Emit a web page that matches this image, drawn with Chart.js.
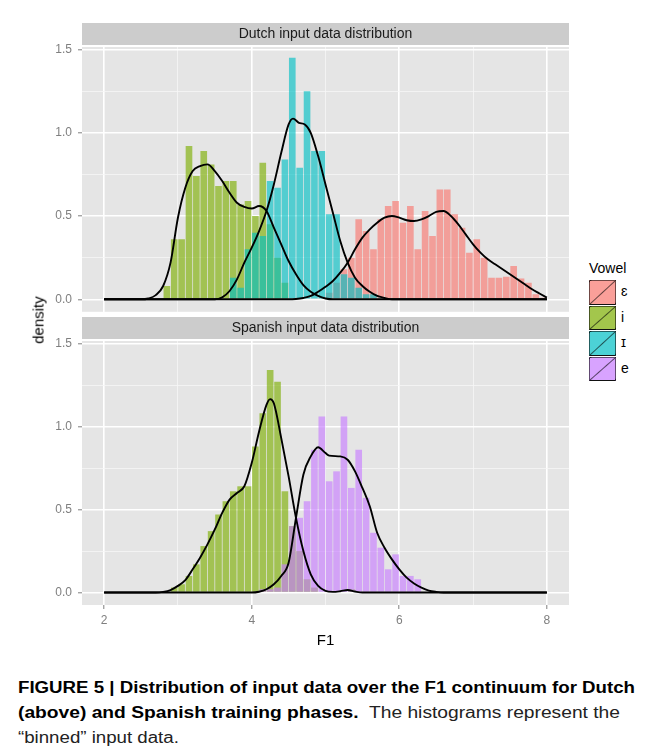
<!DOCTYPE html>
<html>
<head>
<meta charset="utf-8">
<script src="https://cdn.jsdelivr.net/npm/chart.js@4.4.1/dist/chart.umd.min.js"></script>
<style>
  body { margin: 0; background: #fff; width: 652px; height: 752px; position: relative; overflow: hidden;
         font-family: "Liberation Sans", Arial, sans-serif; }
  canvas { position: absolute; left: 0; }
  #dutchChart { top: 0; }
  #spanishChart { top: 312px; }
  #ylab { position: absolute; left: 38px; top: 320px; transform: translate(-50%, -50%) rotate(-90deg);
          font-size: 15px; color: #000; white-space: nowrap; }
  #legend { position: absolute; left: 589px; top: 260px; }
  #legend .title { font-size: 14px; color: #000; height: 20px; }
  #legend .row { position: relative; height: 25.5px; }
  #legend .key { position: absolute; left: 0; top: 0; width: 27px; height: 24.5px; box-sizing: border-box;
                 border: 1px solid rgba(0,0,0,0.55); border-bottom: 1.5px solid #111; }
  #legend .lbl { position: absolute; left: 32px; top: 3px; font-size: 14px; color: #000; }
  .cap { position: absolute; left: 18px; font-size: 16px; line-height: 20px; white-space: nowrap;
         transform-origin: 0 0; color: #000; }
  .cap b { font-weight: bold; }
  .cap span.n { color: #222; }
</style>
</head>
<body>
<canvas id="dutchChart" width="580" height="325"></canvas>
<canvas id="spanishChart" width="580" height="340"></canvas>
<div id="ylab">density</div>
<div id="legend"></div>
<div class="cap" id="cap1" style="top:678px"><b>FIGURE 5 | Distribution of input data over the F1 continuum for Dutch</b></div>
<div class="cap" id="cap2" style="top:703px"><b>(above) and Spanish training phases.</b><span class="n">&nbsp; The histograms represent the</span></div>
<div class="cap" id="cap3" style="top:728px"><span class="n">“binned” input data.</span></div>

<script>
// axis ticks
const xTickValues = [2, 3, 4, 5, 6, 7, 8];
const xTickLabels = ['2', '', '4', '', '6', '', '8'];
const yTickValues = [0, 0.25, 0.5, 0.75, 1, 1.25, 1.5];
const yTickLabels = ['0.0', '', '0.5', '', '1.0', '', '1.5'];
const binWidth = 0.1;

// legend
const vowels = ['ɛ', 'i', 'ɪ', 'e'];
const vowelColors = ['248,118,109', '124,174,0', '0,191,196', '199,124,255'];

// Dutch panel histograms (lower bin edges, density)
const nlEpsBins = [5.0, 5.1, 5.2, 5.3, 5.4, 5.5, 5.6, 5.7, 5.8, 5.9, 6.0, 6.1, 6.2, 6.3, 6.4,
                   6.5, 6.6, 6.7, 6.8, 6.9, 7.0, 7.1, 7.2, 7.3, 7.4, 7.5, 7.6, 7.7, 7.8, 7.9];
const nlEpsHist = [0.04, 0.10, 0.18, 0.25, 0.48, 0.41, 0.30, 0.48, 0.56, 0.59, 0.46, 0.56, 0.30, 0.53, 0.38,
                   0.66, 0.66, 0.51, 0.43, 0.28, 0.36, 0.25, 0.13, 0.13, 0.135, 0.20, 0.125, 0.10, 0.03, 0.01];
const nlIBins = [2.8, 2.9, 3.0, 3.1, 3.2, 3.3, 3.4, 3.5, 3.6, 3.7, 3.8, 3.9, 4.0, 4.1, 4.2, 4.3, 4.4];
const nlIHist = [0.08, 0.36, 0.36, 0.92, 0.74, 0.89, 0.81, 0.68, 0.71, 0.71, 0.57, 0.59, 0.50, 0.82, 0.45, 0.25, 0.10];
const nlLaxIBins = [3.7, 3.8, 3.9, 4.0, 4.1, 4.2, 4.3, 4.4, 4.5, 4.6, 4.7, 4.8, 4.9, 5.0, 5.1,
                    5.2, 5.3, 5.4, 5.5, 5.6, 5.7];
const nlLaxIHist = [0.13, 0.07, 0.30, 0.40, 0.38, 0.71, 0.67, 0.84, 1.45, 0.79, 1.25, 0.89, 0.89, 0.51, 0.51,
                    0.15, 0.13, 0.07, 0.03, 0.03, 0.01];

// Dutch panel density curves
const nlEpsDensX = [2, 4.5, 4.6, 4.7, 4.8, 4.9, 5.0, 5.1, 5.2, 5.3, 5.4, 5.5, 5.6, 5.7, 5.8, 5.9, 6.0, 6.1, 6.2,
                    6.3, 6.4, 6.5, 6.6, 6.7, 6.8, 6.9, 7.0, 7.1, 7.2, 7.3, 7.4, 7.5, 7.6, 7.7, 7.8, 7.9, 8.0];
const nlEpsDensY = [0, 0, 0.002, 0.008, 0.02, 0.045, 0.075, 0.11, 0.16, 0.22, 0.30, 0.37, 0.42, 0.46, 0.49, 0.50, 0.49, 0.475, 0.47,
                    0.48, 0.50, 0.525, 0.53, 0.50, 0.45, 0.39, 0.33, 0.28, 0.24, 0.21, 0.18, 0.15, 0.12, 0.09, 0.06, 0.035, 0.01];
const nlIDensX = [2, 2.5, 2.6, 2.7, 2.8, 2.9, 3.0, 3.1, 3.2, 3.3, 3.4, 3.5, 3.6, 3.7, 3.8, 3.9, 4.0, 4.1, 4.2,
                  4.3, 4.4, 4.5, 4.6, 4.7, 4.8, 4.9, 5.0, 5.1, 8];
const nlIDensY = [0, 0, 0.005, 0.025, 0.08, 0.22, 0.49, 0.67, 0.77, 0.80, 0.81, 0.77, 0.71, 0.64, 0.58, 0.555, 0.545, 0.56, 0.53,
                  0.43, 0.33, 0.23, 0.15, 0.085, 0.045, 0.02, 0.005, 0, 0];
const nlLaxIDensX = [2, 3.5, 3.6, 3.7, 3.8, 3.9, 4.0, 4.1, 4.2, 4.3, 4.4, 4.5, 4.56, 4.64, 4.72, 4.8, 4.9, 5.0,
                     5.1, 5.2, 5.3, 5.4, 5.5, 5.6, 5.7, 5.8, 5.9, 8];
const nlLaxIDensY = [0, 0, 0.012, 0.05, 0.12, 0.22, 0.31, 0.41, 0.53, 0.69, 0.88, 1.05, 1.085, 1.06, 1.05, 1.0, 0.86, 0.69,
                     0.52, 0.35, 0.22, 0.13, 0.08, 0.045, 0.02, 0.008, 0, 0];

// Spanish panel histograms
const esIBins = [2.9, 3.0, 3.1, 3.2, 3.3, 3.4, 3.5, 3.6, 3.7, 3.8, 3.9, 4.0, 4.1, 4.2, 4.3, 4.4, 4.5, 4.6, 4.7, 4.8, 5.3];
const esIHist = [0.03, 0.05, 0.10, 0.17, 0.28, 0.37, 0.47, 0.55, 0.61, 0.64, 0.64, 0.88, 1.08, 1.34, 1.27, 0.61, 0.40, 0.25, 0.08, 0.03, 0.02];
const esEBins = [4.1, 4.2, 4.3, 4.4, 4.5, 4.6, 4.7, 4.8, 4.9, 5.0, 5.1, 5.2, 5.3, 5.4, 5.5, 5.6, 5.7, 5.8, 5.9, 6.0, 6.1, 6.2];
const esEHist = [0.02, 0.02, 0.03, 0.17, 0.40, 0.45, 0.55, 0.86, 1.06, 0.67, 0.73, 1.06, 0.63, 0.86, 0.57, 0.36, 0.27, 0.14, 0.23, 0.10, 0.10, 0.08];

// Spanish panel density curves
const esIDensX = [2, 2.7, 2.8, 2.9, 3.0, 3.1, 3.2, 3.3, 3.4, 3.5, 3.6, 3.7, 3.8, 3.9, 4.0, 4.1, 4.2, 4.25, 4.3,
                  4.4, 4.5, 4.6, 4.7, 4.8, 4.9, 5.0, 5.1, 5.2, 5.3, 5.4, 5.5, 8];
const esIDensY = [0, 0, 0.004, 0.015, 0.04, 0.075, 0.14, 0.21, 0.29, 0.38, 0.48, 0.56, 0.60, 0.64, 0.78, 0.97, 1.13, 1.165, 1.14,
                  0.93, 0.70, 0.45, 0.25, 0.11, 0.04, 0.01, 0.004, 0.008, 0.015, 0.006, 0, 0];
const esEDensX = [2, 4.0, 4.1, 4.2, 4.3, 4.4, 4.5, 4.6, 4.7, 4.8, 4.9, 5.0, 5.05, 5.2, 5.3, 5.4, 5.5, 5.6,
                  5.7, 5.8, 5.9, 6.0, 6.1, 6.2, 6.3, 6.4, 6.5, 6.6, 8];
const esEDensY = [0, 0, 0.005, 0.02, 0.05, 0.10, 0.18, 0.45, 0.71, 0.82, 0.875, 0.84, 0.825, 0.82, 0.80, 0.73, 0.63, 0.52,
                  0.36, 0.27, 0.20, 0.14, 0.09, 0.055, 0.03, 0.012, 0.004, 0, 0];

function histDataset(bins, hist, rgb, order) {
  return {
    type: 'bar',
    data: bins.map((b, i) => ({ x: Math.round((b + binWidth / 2) * 100) / 100, y: hist[i] })),
    backgroundColor: 'rgba(' + rgb + ',0.64)',
    borderWidth: 0,
    barPercentage: 0.9,
    categoryPercentage: 1,
    grouped: false,
    order: order
  };
}

function densityDataset(xs, ys) {
  return {
    type: 'line',
    data: xs.map((x, i) => ({ x: x, y: ys[i] })),
    borderColor: '#000',
    borderWidth: 1.9,
    pointRadius: 0,
    fill: false,
    cubicInterpolationMode: 'monotone',
    order: 0
  };
}

// grey panel + facet strip
const panelPlugin = {
  id: 'panel',
  beforeDraw(chart, args, opts) {
    const { ctx, chartArea: a } = chart;
    ctx.save();
    ctx.fillStyle = '#E5E5E5';
    ctx.fillRect(a.left, a.top, a.right - a.left, a.bottom - a.top);
    ctx.fillStyle = '#CCCCCC';
    ctx.fillRect(a.left, a.top - 24, a.right - a.left, 22);
    ctx.fillStyle = '#1A1A1A';
    ctx.font = '14px "Liberation Sans", Arial, sans-serif';
    ctx.textAlign = 'center';
    ctx.textBaseline = 'middle';
    ctx.fillText(opts.text, (a.left + a.right) / 2, a.top - 13);
    ctx.restore();
  }
};

const isMajor = (labels, i) => labels[i] !== '';

function panelOptions(isBottom, stripText) {
  return {
    responsive: false,
    animation: false,
    devicePixelRatio: 1,
    layout: { padding: isBottom ? { top: 29, right: 11, bottom: 2, left: 0 } : { top: 47, right: 11, bottom: 0, left: 0 } },
    plugins: { legend: { display: false }, tooltip: { enabled: false }, panel: { text: stripText } },
    scales: {
      x: {
        type: 'linear', min: 1.7, max: 8.3, offset: false,
        afterBuildTicks: s => { s.ticks = xTickValues.map(v => ({ value: v })); },
        afterFit: s => { s.height = isBottom ? 45 : 0; },
        ticks: { display: isBottom, autoSkip: false, maxRotation: 0, padding: 4, color: '#7F7F7F',
                 font: { size: 12, family: '"Liberation Sans", Arial' },
                 callback: (v, i) => xTickLabels[i] },
        grid: {
          offset: false,
          color: c => isMajor(xTickLabels, c.index) ? '#FFFFFF' : '#F6F6F6',
          lineWidth: c => isMajor(xTickLabels, c.index) ? 1.6 : 0.8,
          drawTicks: isBottom, tickLength: 4, tickWidth: 1,
          tickColor: c => isMajor(xTickLabels, c.index) ? '#7F7F7F' : 'rgba(0,0,0,0)'
        },
        border: { display: false },
        title: { display: isBottom, text: 'F1', color: '#000', font: { size: 15, family: '"Liberation Sans", Arial' }, padding: 0 }
      },
      y: {
        min: -0.075, max: 1.515,
        afterBuildTicks: s => { s.ticks = yTickValues.map(v => ({ value: v })); },
        afterFit: s => { s.width = 82; },
        ticks: { autoSkip: false, padding: 6, color: '#7F7F7F',
                 font: { size: 12, family: '"Liberation Sans", Arial' },
                 callback: (v, i) => yTickLabels[i] },
        grid: {
          color: c => isMajor(yTickLabels, c.index) ? '#FFFFFF' : '#F6F6F6',
          lineWidth: c => isMajor(yTickLabels, c.index) ? 1.6 : 0.8,
          tickLength: 4, tickWidth: 1,
          tickColor: c => isMajor(yTickLabels, c.index) ? '#7F7F7F' : 'rgba(0,0,0,0)'
        },
        border: { display: false }
      }
    }
  };
}

new Chart(document.getElementById('dutchChart'), {
  type: 'bar',
  data: {
    datasets: [
      densityDataset(nlEpsDensX, nlEpsDensY),
      densityDataset(nlIDensX, nlIDensY),
      densityDataset(nlLaxIDensX, nlLaxIDensY),
      histDataset(nlLaxIBins, nlLaxIHist, vowelColors[2], 1),
      histDataset(nlIBins, nlIHist, vowelColors[1], 2),
      histDataset(nlEpsBins, nlEpsHist, vowelColors[0], 3)
    ]
  },
  options: panelOptions(false, 'Dutch input data distribution'),
  plugins: [panelPlugin]
});

new Chart(document.getElementById('spanishChart'), {
  type: 'bar',
  data: {
    datasets: [
      densityDataset(esIDensX, esIDensY),
      densityDataset(esEDensX, esEDensY),
      histDataset(esEBins, esEHist, vowelColors[3], 1),
      histDataset(esIBins, esIHist, vowelColors[1], 2)
    ]
  },
  options: panelOptions(true, 'Spanish input data distribution'),
  plugins: [panelPlugin]
});

// legend
const legend = document.getElementById('legend');
legend.innerHTML = '<div class="title">Vowel</div>';
vowels.forEach((v, i) => {
  const row = document.createElement('div');
  row.className = 'row';
  const key = document.createElement('div');
  key.className = 'key';
  key.style.background = 'linear-gradient(to bottom right, rgba(0,0,0,0) calc(50% - 1px), rgba(0,0,0,0.6) 50%, rgba(0,0,0,0) calc(50% + 1px)), rgba(' + vowelColors[i] + ',0.7)';
  const lbl = document.createElement('div');
  lbl.className = 'lbl';
  lbl.textContent = v;
  row.appendChild(key);
  row.appendChild(lbl);
  legend.appendChild(row);
});

// fit caption lines to the figure width
function fitLine(id, target) {
  const el = document.getElementById(id);
  const w = el.getBoundingClientRect().width;
  const s = target / w;
  el.style.transform = 'scaleX(' + s + ')';
  return s;
}
const s1 = fitLine('cap1', 617);
fitLine('cap2', 602);
document.getElementById('cap3').style.transform = 'scaleX(' + s1 + ')';
</script>
</body>
</html>
